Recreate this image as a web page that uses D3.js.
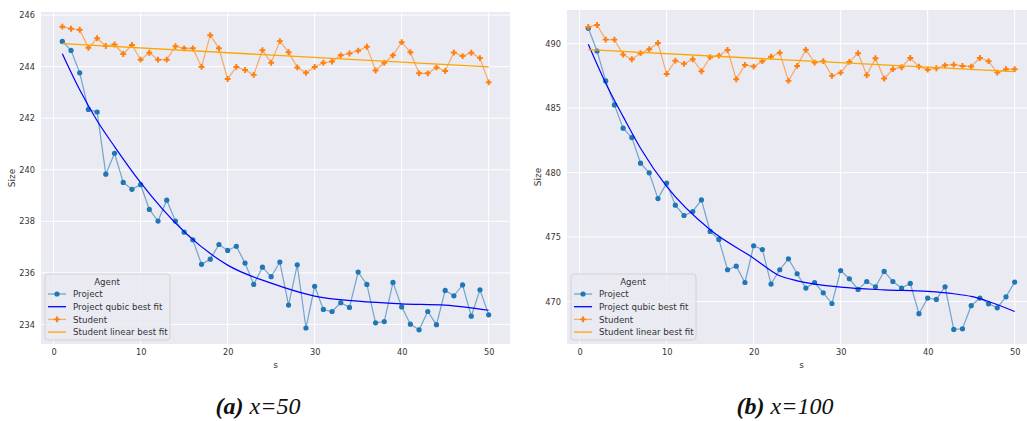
<!DOCTYPE html>
<html>
<head>
<meta charset="utf-8">
<script src="https://cdnjs.cloudflare.com/ajax/libs/d3/7.8.5/d3.min.js"></script>
<style>
  body { margin: 0; background: #fff; }
  svg { display: block; }
  .tick text { fill: #333; font-family: "DejaVu Sans", sans-serif; font-size: 8.2px; }
  .grid line { stroke: #fff; stroke-width: 1; }
  .axis-label { fill: #333; font-family: "DejaVu Sans", sans-serif; font-size: 9px; }
  .legend text { fill: #333; font-family: "DejaVu Sans", sans-serif; font-size: 8.7px; }
  .caption { font-family: "Liberation Serif", serif; font-size: 24px; fill: #111; }
</style>
</head>
<body>
<svg id="chart" width="1027" height="421"></svg>
<script>
// steps on the x axis
const steps = d3.range(1, 51);

// panel (a) x=50
const projectA = [244.98, 244.63, 243.76, 242.34, 242.24, 239.83, 240.64, 239.51, 239.24, 239.42,
  238.46, 238.01, 238.82, 238.01, 237.58, 237.28, 236.33, 236.53, 237.10, 236.87,
  237.03, 236.38, 235.55, 236.22, 235.85, 236.42, 234.75, 236.31, 233.86, 235.48,
  234.58, 234.50, 234.84, 234.66, 236.03, 235.55, 234.06, 234.11, 235.63, 234.68,
  234.01, 233.79, 234.50, 233.99, 235.32, 235.11, 235.53, 234.32, 235.34, 234.37];
const studentA = [245.55, 245.47, 245.43, 244.73, 245.10, 244.80, 244.86, 244.49, 244.84, 244.27,
  244.54, 244.27, 244.27, 244.79, 244.71, 244.71, 243.99, 245.22, 244.71, 243.52,
  243.99, 243.87, 243.68, 244.64, 244.15, 244.99, 244.56, 243.97, 243.76, 243.99,
  244.15, 244.20, 244.44, 244.51, 244.62, 244.77, 243.85, 244.15, 244.44, 244.95,
  244.56, 243.74, 243.74, 243.97, 243.83, 244.55, 244.41, 244.54, 244.33, 243.39];
// best-fit curves
const projectFitA = [[1, 244.5], [3, 243.1], [5, 241.9], [7, 240.9], [10, 239.5], [15, 237.6],
  [20, 236.3], [25, 235.6], [30, 235.1], [35, 234.9], [40, 234.8], [45, 234.75], [50, 234.55]];
const studentFitA = [[1, 244.89], [50, 243.99]];
const yTicksA = [234, 236, 238, 240, 242, 244, 246];

// panel (b) x=100
const projectB = [491.19, 489.43, 487.11, 485.25, 483.44, 482.71, 480.73, 479.98, 477.98, 479.18,
  477.47, 476.67, 476.98, 477.88, 475.43, 474.81, 472.46, 472.74, 471.47, 474.32,
  474.03, 471.35, 472.46, 473.31, 472.15, 471.04, 471.47, 470.67, 469.84, 472.40,
  471.76, 470.93, 471.55, 471.14, 472.33, 471.55, 471.04, 471.40, 469.05, 470.26,
  470.16, 471.14, 467.83, 467.88, 469.67, 470.26, 469.82, 469.51, 470.36, 471.50];
const studentB = [491.29, 491.45, 490.31, 490.31, 489.15, 488.79, 489.26, 489.57, 490.05, 487.65,
  488.68, 488.43, 488.79, 487.86, 488.95, 489.07, 489.51, 487.24, 488.35, 488.22,
  488.64, 488.99, 489.30, 487.11, 488.27, 489.53, 488.53, 488.64, 487.50, 487.75,
  488.58, 489.26, 487.55, 488.87, 487.29, 488.02, 488.17, 488.89, 488.22, 487.98,
  488.09, 488.32, 488.37, 488.27, 488.22, 488.89, 488.64, 487.75, 488.02, 488.02];
const projectFitB = [[1, 489.95], [3, 486.93], [5, 484.34], [7, 481.89], [10, 478.92], [15, 475.56],
  [20, 473.36], [23, 471.99], [25, 471.6], [30, 471.11], [35, 470.9], [40, 470.78], [43, 470.6],
  [45, 470.39], [47, 470.0], [50, 469.22]];
const studentFitB = [[1, 489.53], [50, 487.83]];
const yTicksB = [470, 475, 480, 485, 490];

const xTicks = [0, 10, 20, 30, 40, 50];
const legendLabels = ['Project', 'Project qubic best fit', 'Student', 'Student linear best fit'];

const colProject = '#1f77b4';
const colStudent = '#ff7f0e';
const colProjectFit = '#0000ff';
const colStudentFit = '#ffa500';

const svg = d3.select('#chart');

const plusPath = d3.symbol().type(d3.symbolCross).size(19)();

function drawPanel(opt) {
  const g = svg.append('g');
  const x = d3.scaleLinear().domain([-1.45, 52.45]).range([opt.left, opt.right]);
  const y = d3.scaleLinear().domain(opt.yDomain).range([opt.bottom, opt.top]);

  g.append('rect')
    .attr('x', opt.left).attr('y', opt.top)
    .attr('width', opt.right - opt.left).attr('height', opt.bottom - opt.top)
    .attr('fill', '#eaeaf2');

  // grid
  const grid = g.append('g').attr('class', 'grid');
  grid.selectAll('.gx').data(xTicks).enter().append('line')
    .attr('x1', d => x(d)).attr('x2', d => x(d))
    .attr('y1', opt.top).attr('y2', opt.bottom);
  grid.selectAll('.gy').data(opt.yTicks).enter().append('line')
    .attr('x1', opt.left).attr('x2', opt.right)
    .attr('y1', d => y(d)).attr('y2', d => y(d));

  // axes (labels only, darkgrid style)
  const xAxis = g.append('g')
    .attr('transform', `translate(0,${opt.bottom})`)
    .call(d3.axisBottom(x).tickValues(xTicks).tickSize(0).tickPadding(5));
  xAxis.select('.domain').remove();
  const yAxis = g.append('g')
    .attr('transform', `translate(${opt.left},0)`)
    .call(d3.axisLeft(y).tickValues(opt.yTicks).tickSize(0).tickPadding(6));
  yAxis.select('.domain').remove();

  g.append('text').attr('class', 'axis-label')
    .attr('x', (opt.left + opt.right) / 2).attr('y', 368)
    .attr('text-anchor', 'middle').text('s');
  g.append('text').attr('class', 'axis-label')
    .attr('transform', `translate(${opt.left - 26},${(opt.top + opt.bottom) / 2}) rotate(-90)`)
    .attr('text-anchor', 'middle').text('Size');

  const line = d3.line().x((d, i) => x(steps[i])).y(d => y(d));
  const fitLine = d3.line().x(d => x(d[0])).y(d => y(d[1])).curve(d3.curveMonotoneX);

  // Project series
  g.append('path').datum(opt.project)
    .attr('d', line).attr('fill', 'none')
    .attr('stroke', colProject).attr('stroke-opacity', 0.6).attr('stroke-width', 1.2);
  g.selectAll('.pp').data(opt.project).enter().append('circle')
    .attr('cx', (d, i) => x(steps[i])).attr('cy', d => y(d))
    .attr('r', 2.6).attr('fill', colProject);

  g.append('path').datum(opt.projectFit)
    .attr('d', fitLine).attr('fill', 'none')
    .attr('stroke', colProjectFit).attr('stroke-width', 1.2);

  // Student series
  g.append('path').datum(opt.student)
    .attr('d', line).attr('fill', 'none')
    .attr('stroke', colStudent).attr('stroke-opacity', 0.6).attr('stroke-width', 1.2);
  g.selectAll('.sp').data(opt.student).enter().append('path')
    .attr('d', plusPath)
    .attr('transform', (d, i) => `translate(${x(steps[i])},${y(d)})`)
    .attr('fill', colStudent);

  g.append('path').datum(opt.studentFit)
    .attr('d', fitLine).attr('fill', 'none')
    .attr('stroke', colStudentFit).attr('stroke-width', 1.3);

  // legend
  const lg = g.append('g').attr('class', 'legend')
    .attr('transform', `translate(${opt.left + 4},274)`);
  lg.append('rect').attr('width', 125).attr('height', 66).attr('rx', 3)
    .attr('fill', '#eaeaf2').attr('fill-opacity', 0.8)
    .attr('stroke', '#cccccc').attr('stroke-width', 0.8);
  lg.append('text').attr('x', 62).attr('y', 10.5).attr('text-anchor', 'middle').text('Agent');
  const styles = [
    { c: colProject, o: 0.6, m: 'circle' },
    { c: colProjectFit, o: 1, m: null },
    { c: colStudent, o: 0.6, m: 'plus' },
    { c: colStudentFit, o: 1, m: null }
  ];
  legendLabels.forEach((lab, i) => {
    const cy = 20 + i * 12.7;
    const s = styles[i];
    lg.append('line').attr('x1', 3).attr('x2', 21).attr('y1', cy).attr('y2', cy)
      .attr('stroke', s.c).attr('stroke-opacity', s.o).attr('stroke-width', 1.3);
    if (s.m === 'circle') {
      lg.append('circle').attr('cx', 12).attr('cy', cy).attr('r', 2.6).attr('fill', s.c);
    } else if (s.m === 'plus') {
      lg.append('path').attr('d', plusPath).attr('transform', `translate(12,${cy})`).attr('fill', s.c);
    }
    lg.append('text').attr('x', 28).attr('y', cy + 3.2).text(lab);
  });
}

drawPanel({
  left: 41, right: 510, top: 12, bottom: 344,
  yDomain: [233.24, 246.12], yTicks: yTicksA,
  project: projectA, student: studentA, projectFit: projectFitA, studentFit: studentFitA
});

drawPanel({
  left: 567, right: 1036, top: 10, bottom: 344,
  yDomain: [466.7, 492.61], yTicks: yTicksB,
  project: projectB, student: studentB, projectFit: projectFitB, studentFit: studentFitB
});

// captions
const captions = [
  { x: 258, label: '(a)', rest: ' x=50' },
  { x: 785, label: '(b)', rest: ' x=100' }
];
captions.forEach(c => {
  const t = svg.append('text').attr('class', 'caption')
    .attr('x', c.x).attr('y', 414).attr('text-anchor', 'middle');
  t.append('tspan').attr('font-weight', 'bold').attr('font-style', 'italic').text(c.label);
  t.append('tspan').attr('font-style', 'italic').text(c.rest);
});
</script>
</body>
</html>
